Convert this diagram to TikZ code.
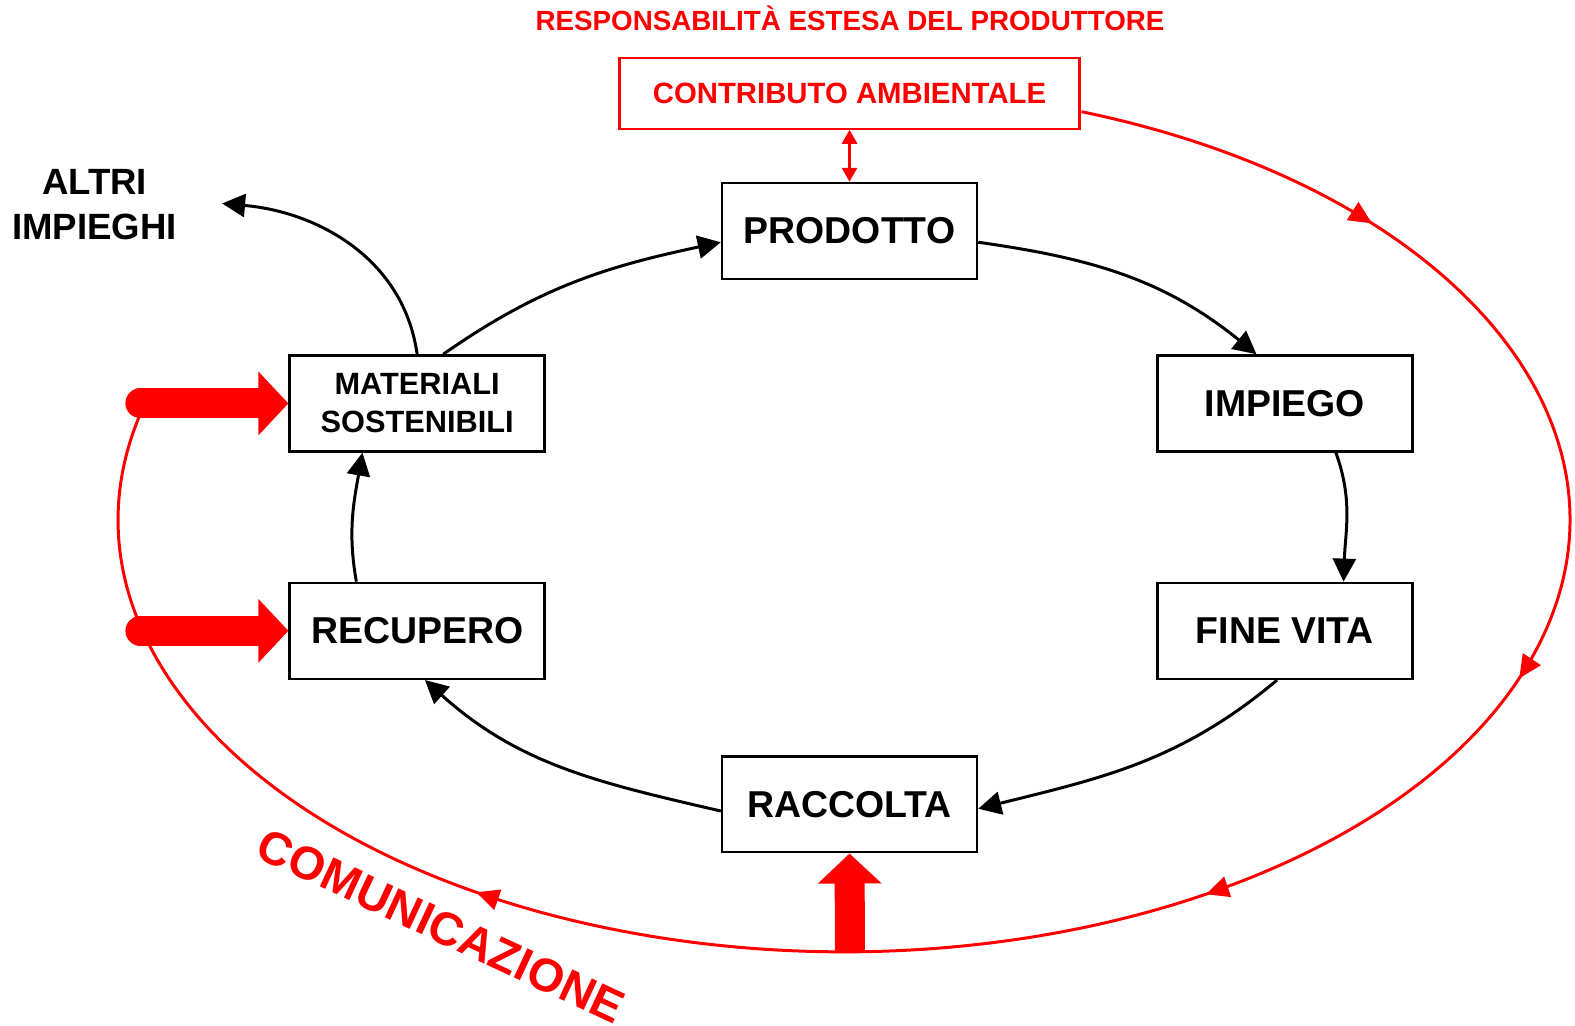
\documentclass[tikz,border=0pt]{standalone}
\usepackage{fontspec}
\setmainfont{Liberation Sans}
\usepackage{tikz}
\usetikzlibrary{arrows.meta, positioning, calc, decorations.markings}
\definecolor{cycred}{RGB}{255,0,0}
\tikzstyle{fase} = [draw, rectangle, line width=1.4pt, minimum width=5.1cm, minimum height=1.92cm, inner sep=0pt, align=center, font=\fontsize{21.3}{25}\selectfont\bfseries]
\tikzstyle{rossobox} = [draw=cycred, text=cycred, rectangle, line width=1.2pt, minimum width=9.2cm, minimum height=1.42cm, inner sep=0pt, font=\fontsize{16.7}{20}\selectfont\bfseries]
\tikzstyle{flow} = [line width=1.7pt, -{Triangle[length=0.46cm,width=0.46cm]}]
\tikzstyle{bigarrow} = [line width=0.6cm, color=cycred, -{Triangle[length=0.6cm,width=1.24cm]}]
\tikzstyle{redloop} = [line width=1.7pt, color=cycred, postaction={decorate}, decoration={markings,
    mark=at position 0.118 with {\arrow{Triangle[length=0.46cm,width=0.42cm]}},
    mark=at position 0.322 with {\arrow{Triangle[length=0.46cm,width=0.42cm]}},
    mark=at position 0.468 with {\arrow{Triangle[length=0.46cm,width=0.42cm]}},
    mark=at position 0.748 with {\arrow{Triangle[length=0.46cm,width=0.42cm]}}}]

\begin{document}
\begin{tikzpicture}[x=0.02cm, y=0.02cm]
    \useasboundingbox (0,0) rectangle (1575,1025);
    % ciclo di vita
    \node (prodotto) [fase] at (849.5,794) {PRODOTTO};
    \node (impiego) [fase, below right=1.48cm and 3.56cm of prodotto] {IMPIEGO};
    \node (finevita) [fase, below=2.58cm of impiego] {FINE VITA};
    \node (raccolta) [fase, below left=1.5cm and 3.56cm of finevita] {RACCOLTA};
    \node (recupero) [fase, above left=1.5cm and 3.5cm of raccolta] {RECUPERO};
    \node (materiali) [fase, above=2.58cm of recupero, font=\fontsize{17.5}{21.5}\selectfont\bfseries] {MATERIALI\\SOSTENIBILI};
    \node (contrib) [rossobox, above=1.04cm of prodotto] {CONTRIBUTO AMBIENTALE};
    \node (titolo) [anchor=base, text=cycred, font=\fontsize{15.8}{18}\selectfont\bfseries] at (850,994) {RESPONSABILITÀ ESTESA DEL PRODUTTORE};
    \node (altri) [align=center, inner sep=0pt, font=\fontsize{20.8}{25.5}\selectfont\bfseries] at (94.5,820.5) {ALTRI\\IMPIEGHI};
    \node (comunic) [text=cycred, rotate=-25, font=\fontsize{26.5}{30}\selectfont\bfseries] at (441,99) {COMUNICAZIONE};
    \draw [flow] (materiali.62) to[out=35,in=192] (prodotto.185);
    \draw [flow] (prodotto.355) to[out=-8,in=141] (impiego.120);
    \draw [flow] (impiego.316) to[out=-70,in=88] (finevita.40);
    \draw [flow] (finevita.261) to[out=220,in=14] (raccolta.358);
    \draw [flow] (raccolta.183) to[out=167,in=-42] (recupero.279);
    \draw [flow] (recupero.141) to[out=100,in=-100] (materiali.222);
    \draw [flow] (materiali.north) to[out=98,in=-5] ($(altri.east)+(45,1)$);
    % comunicazione
    \draw [cycred, line width=1.6pt, {Triangle[length=0.28cm,width=0.3cm]}-{Triangle[length=0.28cm,width=0.3cm]}] (contrib) -- (prodotto);
    \coordinate (loopstart) at (1081.5,913.3);
    \draw [redloop] (loopstart) arc[start angle=70.9, end angle=-195.4, x radius=14.52cm, y radius=8.64cm];
    \coordinate (matin) at ($(materiali.west)+(-148,0)$);
    \coordinate (recin) at ($(recupero.west)+(-148,0)$);
    \coordinate (raccin) at (850,73);
    \draw [bigarrow, line cap=round] (matin) -- (materiali.west);
    \draw [bigarrow, line cap=round] (recin) -- (recupero.west);
    \draw [bigarrow] (raccin) -- (raccolta.south);
\end{tikzpicture}
\end{document}
